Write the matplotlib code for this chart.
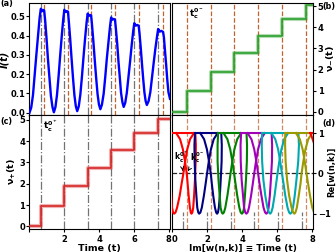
import matplotlib.pyplot as plt
import numpy as np

plt.rcParams['font.family'] = 'DejaVu Sans'
plt.rcParams['font.size'] = 6
plt.rcParams['font.weight'] = 'bold'
plt.rcParams['axes.labelweight'] = 'bold'
plt.rcParams['axes.labelsize'] = 6.8
plt.rcParams['mathtext.default'] = 'bf'
plt.rcParams['axes.linewidth'] = 0.8
plt.rcParams['xtick.major.size'] = 2.5
plt.rcParams['ytick.major.size'] = 2
plt.rcParams['xtick.major.pad'] = 1.5
plt.rcParams['ytick.major.pad'] = 1

# critical times (gray = "+" branch, orange = "-" branch)
T_PLUS = [0.65, 2.0, 3.34, 4.69, 6.02, 7.39]
T_MINUS = [0.84, 2.21, 3.54, 4.91, 6.27, 7.67]

# (a) return rate I(t)
T_I = [0.00, 0.10, 0.20, 0.29, 0.39, 0.49, 0.58, 0.65, 0.72, 0.78, 0.84, 0.90, 0.98, 1.06, 1.15, 1.23, 1.32, 1.40,
       1.49, 1.58, 1.67, 1.76, 1.85, 1.94, 2.00, 2.07, 2.14, 2.21, 2.26, 2.34, 2.42, 2.50, 2.58, 2.66, 2.74,
       2.83, 2.92, 3.01, 3.10, 3.19, 3.28, 3.34, 3.41, 3.48, 3.54, 3.59, 3.67, 3.75, 3.83, 3.91, 3.99, 4.07,
       4.16, 4.26, 4.35, 4.44, 4.54, 4.63, 4.69, 4.76, 4.84, 4.91, 4.96, 5.04, 5.11, 5.19, 5.26, 5.34, 5.41,
       5.50, 5.59, 5.68, 5.78, 5.87, 5.96, 6.02, 6.10, 6.18, 6.27, 6.32, 6.39, 6.46, 6.53, 6.60, 6.67, 6.74,
       6.84, 6.94, 7.03, 7.13, 7.23, 7.33, 7.39, 7.48, 7.57, 7.67, 7.72, 7.78, 7.85, 7.91, 7.98, 8.07]
I_VAL = [0.000, 0.027, 0.092, 0.189, 0.297, 0.400, 0.491, 0.540, 0.528, 0.534, 0.532, 0.479, 0.384, 0.278, 0.177, 0.087, 0.029, 0.002,
         0.029, 0.093, 0.189, 0.295, 0.396, 0.487, 0.535, 0.523, 0.528, 0.525, 0.473, 0.380, 0.277, 0.179, 0.091, 0.034, 0.008,
         0.033, 0.094, 0.185, 0.287, 0.383, 0.469, 0.515, 0.503, 0.508, 0.505, 0.456, 0.369, 0.271, 0.179, 0.096, 0.042, 0.018,
         0.042, 0.099, 0.185, 0.280, 0.371, 0.452, 0.495, 0.483, 0.487, 0.483, 0.438, 0.356, 0.266, 0.179, 0.102, 0.053, 0.030,
         0.052, 0.104, 0.182, 0.269, 0.352, 0.426, 0.465, 0.452, 0.456, 0.452, 0.411, 0.337, 0.254, 0.176, 0.106, 0.061, 0.040,
         0.060, 0.107, 0.178, 0.257, 0.333, 0.399, 0.435, 0.421, 0.425, 0.420, 0.392, 0.324, 0.248, 0.175, 0.107, 0.072]

# (b), (c) winding numbers
NU_MINUS = [0, 0.97, 1.90, 2.78, 3.60, 4.37, 5.05]
NU_PLUS = [0, 0.95, 1.88, 2.75, 3.57, 4.37, 5.03]

# (d) Fisher-zero lines, one colour per n
LOOP_COLORS = ['red', 'navy', 'green', '#a000b8', '#00a8b0', '#9a9a00']
Y_UP = [1.00, 0.70, 0.30, -0.15, -0.55, -0.85, -0.97, -1.00, -0.97, -0.85, -0.55, -0.25, 0.00, 0.30, 0.60, 0.85, 1.00]
Y_DN = [1.00, 0.85, 0.60, 0.30, 0.00, -0.25, -0.55, -0.85, -0.97, -1.00, -0.97, -0.85, -0.55, -0.15, 0.30, 0.70, 1.00]
X_UP = [
    [-0.12, -0.15, -0.14, -0.10, -0.04, 0.00, 0.06, 0.12, 0.20, 0.29, 0.44, 0.55, 0.65, 0.75, 0.87, 1.03, 1.25],
    [1.31, 1.28, 1.29, 1.33, 1.39, 1.44, 1.50, 1.55, 1.62, 1.70, 1.82, 1.92, 2.00, 2.10, 2.22, 2.38, 2.60],
    [2.63, 2.60, 2.60, 2.65, 2.72, 2.77, 2.84, 2.89, 2.96, 3.04, 3.16, 3.26, 3.34, 3.44, 3.56, 3.72, 3.94],
    [3.94, 3.91, 3.92, 3.97, 4.05, 4.11, 4.18, 4.24, 4.31, 4.39, 4.51, 4.61, 4.69, 4.79, 4.91, 5.07, 5.29],
    [5.14, 5.12, 5.14, 5.21, 5.32, 5.44, 5.53, 5.60, 5.66, 5.74, 5.85, 5.94, 6.02, 6.12, 6.24, 6.40, 6.62],
    [6.46, 6.45, 6.48, 6.56, 6.68, 6.82, 6.91, 6.98, 7.04, 7.12, 7.23, 7.33, 7.39, 7.49, 7.61, 7.77, 7.99],
]
X_DN = [
    [0.24, 0.46, 0.62, 0.74, 0.84, 0.89, 0.95, 1.02, 1.07, 1.11, 1.16, 1.21, 1.26, 1.31, 1.35, 1.36, 1.33],
    [1.61, 1.83, 1.99, 2.11, 2.21, 2.27, 2.35, 2.45, 2.52, 2.57, 2.62, 2.67, 2.73, 2.78, 2.83, 2.84, 2.81],
    [2.94, 3.16, 3.32, 3.44, 3.54, 3.62, 3.72, 3.84, 3.92, 3.99, 4.05, 4.11, 4.16, 4.22, 4.27, 4.28, 4.25],
    [4.31, 4.53, 4.69, 4.81, 4.91, 4.99, 5.10, 5.22, 5.31, 5.38, 5.45, 5.51, 5.58, 5.64, 5.70, 5.71, 5.68],
    [5.67, 5.89, 6.05, 6.17, 6.27, 6.36, 6.46, 6.59, 6.68, 6.75, 6.82, 6.90, 7.00, 7.10, 7.20, 7.24, 7.21],
    [7.07, 7.29, 7.45, 7.57, 7.67, 7.76, 7.87, 8.00, 8.10, 8.17, 8.24, 8.32, 8.45, 8.55, 8.66, 8.72, 8.69],
]
TOP_EDGES = [0.0, 1.31, 2.63, 3.94, 5.14, 6.46, 7.89, 8.2]
NEXT_RED_X = [7.89, 7.98, 8.12]
NEXT_RED_Y = [1.0, 0.90, 0.72]

GRAY = '0.45'
ORANGE = '#c4622f'
XMAX = 8.07

fig = plt.figure(figsize=(3.36, 2.52), dpi=100)
W, H = 336, 252
ax_a = fig.add_axes([29.5 / W, 1 - 115 / H, 140.5 / W, 112 / H])
ax_b = fig.add_axes([172 / W, 1 - 115 / H, 141.5 / W, 112 / H])
ax_c = fig.add_axes([29.5 / W, 1 - 229 / H, 140.5 / W, 114 / H])
ax_d = fig.add_axes([172 / W, 1 - 229 / H, 141.5 / W, 114 / H])

for ax in (ax_a, ax_b, ax_c, ax_d):
    ax.set_xlim(0, XMAX)
    ax.set_xticks([0, 2, 4, 6, 8])

# (a)
for t in T_PLUS:
    ax_a.axvline(t, color=GRAY, ls='-.', lw=0.9, zorder=1)
for t in T_MINUS:
    ax_a.axvline(t, color=ORANGE, ls='--', lw=0.9, zorder=1)
ax_a.plot(T_I, I_VAL, color='blue', lw=1.7, zorder=3)
ax_a.set_ylim(-0.012, 0.57)
ax_a.set_yticks([0.0, 0.1, 0.2, 0.3, 0.4, 0.5])
ax_a.set_xticklabels([])
ax_a.set_ylabel('I(t)', fontstyle='italic', fontsize=7, labelpad=1)

# (b)
for t in T_MINUS:
    ax_b.axvline(t, color=ORANGE, ls='--', lw=0.9, zorder=1)
xs = [0] + T_MINUS
ax_b.plot(xs + [XMAX], NU_MINUS + [NU_MINUS[-1]], drawstyle='steps-post', color='#2ca02c', lw=3, alpha=0.35, zorder=2)
ax_b.plot(xs + [XMAX], NU_MINUS + [NU_MINUS[-1]], drawstyle='steps-post', color='#2ca02c', lw=1.2, zorder=3)
ax_b.set_ylim(-0.15, 5.15)
ax_b.set_yticks([0, 1, 2, 3, 4, 5])
ax_b.set_xticklabels([])
ax_b.yaxis.tick_right()
ax_b.yaxis.set_label_position('right')
ax_b.set_ylabel(r'$\nu_{-}(t)$', labelpad=0.5)
ax_b.text(0.95, 4.5, r'$t_c^{0^-}$', fontsize=6.5)

# (c)
for t in T_PLUS:
    ax_c.axvline(t, color=GRAY, ls='-.', lw=0.9, zorder=1)
xs = [0] + T_PLUS
ax_c.plot(xs + [XMAX], NU_PLUS + [NU_PLUS[-1]], drawstyle='steps-post', color='#d62728', lw=3, alpha=0.35, zorder=2)
ax_c.plot(xs + [XMAX], NU_PLUS + [NU_PLUS[-1]], drawstyle='steps-post', color='#d62728', lw=1.2, zorder=3)
ax_c.set_ylim(-0.12, 5.22)
ax_c.set_yticks([0, 1, 2, 3, 4, 5])
ax_c.set_xticklabels(['', '2', '4', '6', '8'])
ax_c.set_xlabel('Time (t)', labelpad=0.5)
ax_c.set_ylabel(r'$\nu_{+}(t)$', labelpad=1)
ax_c.text(0.78, 4.55, r'$t_c^{0^+}$', fontsize=6.5)

# (d)
for t in T_MINUS:
    ax_d.axvline(t, color=ORANGE, ls='--', lw=0.9, alpha=0.75, zorder=1)
for t in T_PLUS:
    ax_d.axvline(t, ymin=0, ymax=0.15, color=GRAY, ls='-.', lw=0.9, zorder=1)
ax_d.axhline(0, color='0.15', ls='--', lw=0.9, zorder=2)
for i, c in enumerate(LOOP_COLORS):
    ax_d.plot([TOP_EDGES[i], TOP_EDGES[i + 1]], [1, 1], color=c, lw=1.5, zorder=3)
    ax_d.plot(X_UP[i], Y_UP, color=c, lw=1.5, zorder=3)
    ax_d.plot(X_DN[i], Y_DN, color=c, lw=1.5, zorder=3)
ax_d.plot([TOP_EDGES[6], TOP_EDGES[7]], [1, 1], color='red', lw=1.5, zorder=3)
ax_d.plot(NEXT_RED_X, NEXT_RED_Y, color='red', lw=1.5, zorder=3)
ax_d.set_ylim(-1.38, 1.45)
ax_d.set_yticks([-1, 0, 1])
ax_d.yaxis.tick_right()
ax_d.yaxis.set_label_position('right')
ax_d.set_ylabel('Re[w(n,k)]', fontsize=6)
ax_d.yaxis.set_label_coords(1.093, 0.5)
ax_d.set_xlabel('Im[w(n,k)] \u2261 Time (t)', fontsize=6.5, labelpad=0.5)
ax_d.get_xticklabels()[0].set_horizontalalignment('left')
ax_d.annotate(r'$k_c^{0^+}$', xy=(0.63, 0.0), xytext=(0.1, 0.32), fontsize=5.5,
              arrowprops=dict(arrowstyle='->', color='k', lw=0.7))
ax_d.annotate(r'$k_c^{0^-}$', xy=(0.82, 0.0), xytext=(1.0, 0.32), fontsize=5.5,
              arrowprops=dict(arrowstyle='->', color='k', lw=0.7))

fig.text(0.002, 0.986, '(a)', ha='left', va='center', fontsize=5.8)
fig.text(0.999, 0.976, '(b)', ha='right', va='center', fontsize=5.8)
fig.text(0.002, 0.517, '(c)', ha='left', va='center', fontsize=5.8)
fig.text(0.999, 0.51, '(d)', ha='right', va='center', fontsize=5.8)

fig.savefig('out.png', dpi=100)
